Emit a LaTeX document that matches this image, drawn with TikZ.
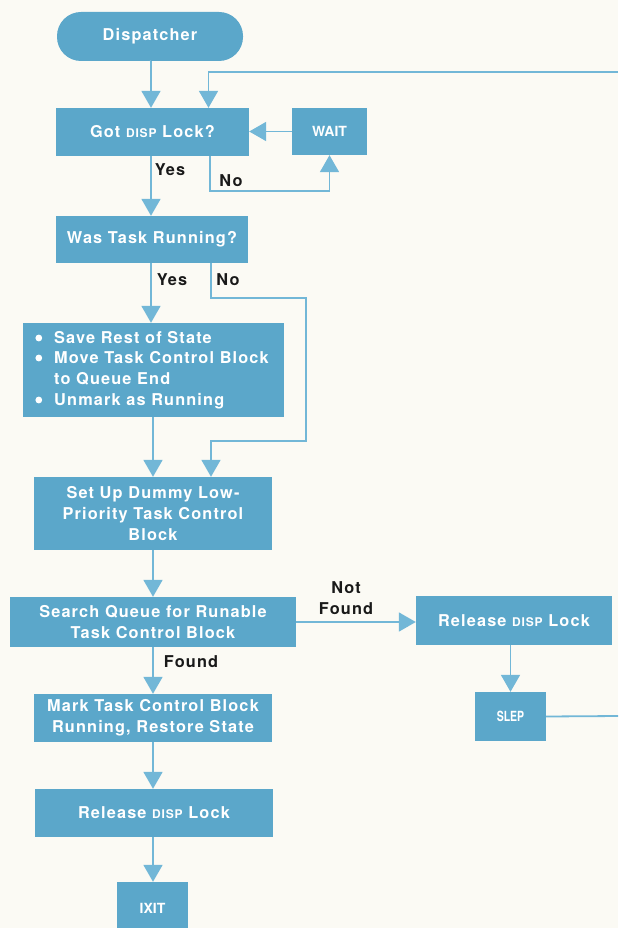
\documentclass[tikz,border=0pt]{standalone}
\usepackage{fontspec}
\setmainfont{TeX Gyre Heros}
\usetikzlibrary{arrows.meta,calc}
\definecolor{boxblue}{HTML}{5BA7CA}
\definecolor{lineblue}{HTML}{72B7D7}
\definecolor{paper}{HTML}{FBFAF4}
% small-caps style name of the lock
\newcommand\dispsc{{\fontsize{12}{12}\selectfont DISP}}
% indent that leaves room for the list bullets
\newcommand\bulgap{\hspace*{16pt}}
\newcommand\trackedbold{\bfseries\addfontfeatures{LetterSpace=7}}
\begin{document}
\begin{tikzpicture}[x=1pt,y=-1pt,
  box/.style={fill=boxblue, text=white, align=center, inner sep=0pt,
    font=\fontsize{16.3}{20.8}\selectfont\trackedbold},
  smallbox/.style={box, font=\fontsize{14}{16}\selectfont\bfseries},
  flow/.style={draw=lineblue, line width=1.8pt,
    -{Triangle[width=19pt,length=17pt]}},
  link/.style={draw=lineblue, line width=1.8pt},
  bulletdot/.style={fill=white},
  lbl/.style={text=black!90, inner sep=0pt, align=center,
    font=\fontsize{16.3}{20.5}\selectfont\trackedbold}]

\fill[paper] (0,0) rectangle (618,928);
\useasboundingbox (0,0) rectangle (618,928);

% boxes
\node[box, minimum width=186pt, minimum height=49pt, rounded corners=24pt]
  (disp) at (150,36.5) {Dispatcher};
\node[box, minimum width=193pt, minimum height=48pt] (lock) at (152.5,132)
  {Got \dispsc\ Lock?};
\node[smallbox, minimum width=75pt, minimum height=47pt] (wait) at (329.5,131.5) {WAIT};
\node[box, minimum width=192pt, minimum height=47pt] (run) at (152,239.5)
  {Was Task Running?};
\node[box, minimum width=261pt, minimum height=94pt, align=left] (save) at (153.5,370)
  {\bulgap Save Rest of State\\
   \bulgap Move Task Control Block\\
   \bulgap to Queue End\\
   \bulgap Unmark as Running};
% list bullets of the box above
\fill[bulletdot] ($(save.west)+(16,-32)$) circle (3.4pt);
\fill[bulletdot] ($(save.west)+(16,-12)$) circle (3.4pt);
\fill[bulletdot] ($(save.west)+(16,30)$) circle (3.4pt);
\node[box, minimum width=238pt, minimum height=73pt] (setup) at (153,513.5)
  {Set Up Dummy Low-\\Priority Task Control\\Block};
\node[box, minimum width=286pt, minimum height=50pt] (search) at (153,622)
  {Search Queue for Runable\\Task Control Block};
\node[box, minimum width=196pt, minimum height=49pt] (rel2) at (514,620.5)
  {Release \dispsc\ Lock};
\node[smallbox, minimum width=71pt, minimum height=49pt] (slep) at (510.5,716.5)
  {\scalebox{0.75}[1]{SLEP}};
\node[box, minimum width=238pt, minimum height=48pt] (mark) at (153,718)
  {Mark Task Control Block\\Running, Restore State};
\node[box, minimum width=238pt, minimum height=48pt] (rel1) at (154,813)
  {Release \dispsc\ Lock};
\node[smallbox, minimum width=71pt, minimum height=52pt] (ixit) at (152.5,908) {IXIT};

% free ends of the lines that leave the page
\coordinate (rtop) at (618,72);
\coordinate (rout) at (618,716);

% connectors
\draw[flow] (lock.north -| 151,0) ++(0,-47) coordinate (d0) -- (d0 |- lock.north);
\draw[link] (disp.south) -- (d0);
\draw[flow] (rtop) -| ($(lock.north)+(56,0)$);
\draw[flow] (wait.west) -- (wait.west -| lock.east);
\draw[flow] ($(lock.south)+(57.5,0)$) -- ++(0,35) -| (wait.south);
\draw[flow] (lock.south -| d0) -- (run.north -| d0);
\draw[flow] (run.south -| d0) -- (save.north -| d0);
\draw[flow] ($(run.south)+(59,0)$) -- ++(0,35) -- ++(95,0) -- ++(0,143)
  -- ++(-95,0) -- ($(setup.north)+(58,0)$);
\draw[flow] (save.south -| setup.north) -- (setup.north);
\draw[flow] (setup.south) -- (search.north);
\draw[flow] (search.east) -- (search.east -| rel2.west);
\draw[flow] (slep.north |- rel2.south) -- (slep.north);
\draw[link] (slep.east) -- (rout);
\draw[flow] (search.south) -- (mark.north);
\draw[flow] (mark.south) -- (mark.south |- rel1.north);
\draw[flow] (rel1.south -| mark.south) -- (mark.south |- ixit.north);

% branch labels
\node[lbl] (yes1) at (170,170) {Yes};
\node[lbl] (no1) at (231,181) {No};
\node[lbl] (yes2) at (172,280) {Yes};
\node[lbl] (no2) at (228,280) {No};
\node[lbl] (nf) at (346,598) {Not\\Found};
\node[lbl] (found) at (191,662) {Found};
\end{tikzpicture}
\end{document}
